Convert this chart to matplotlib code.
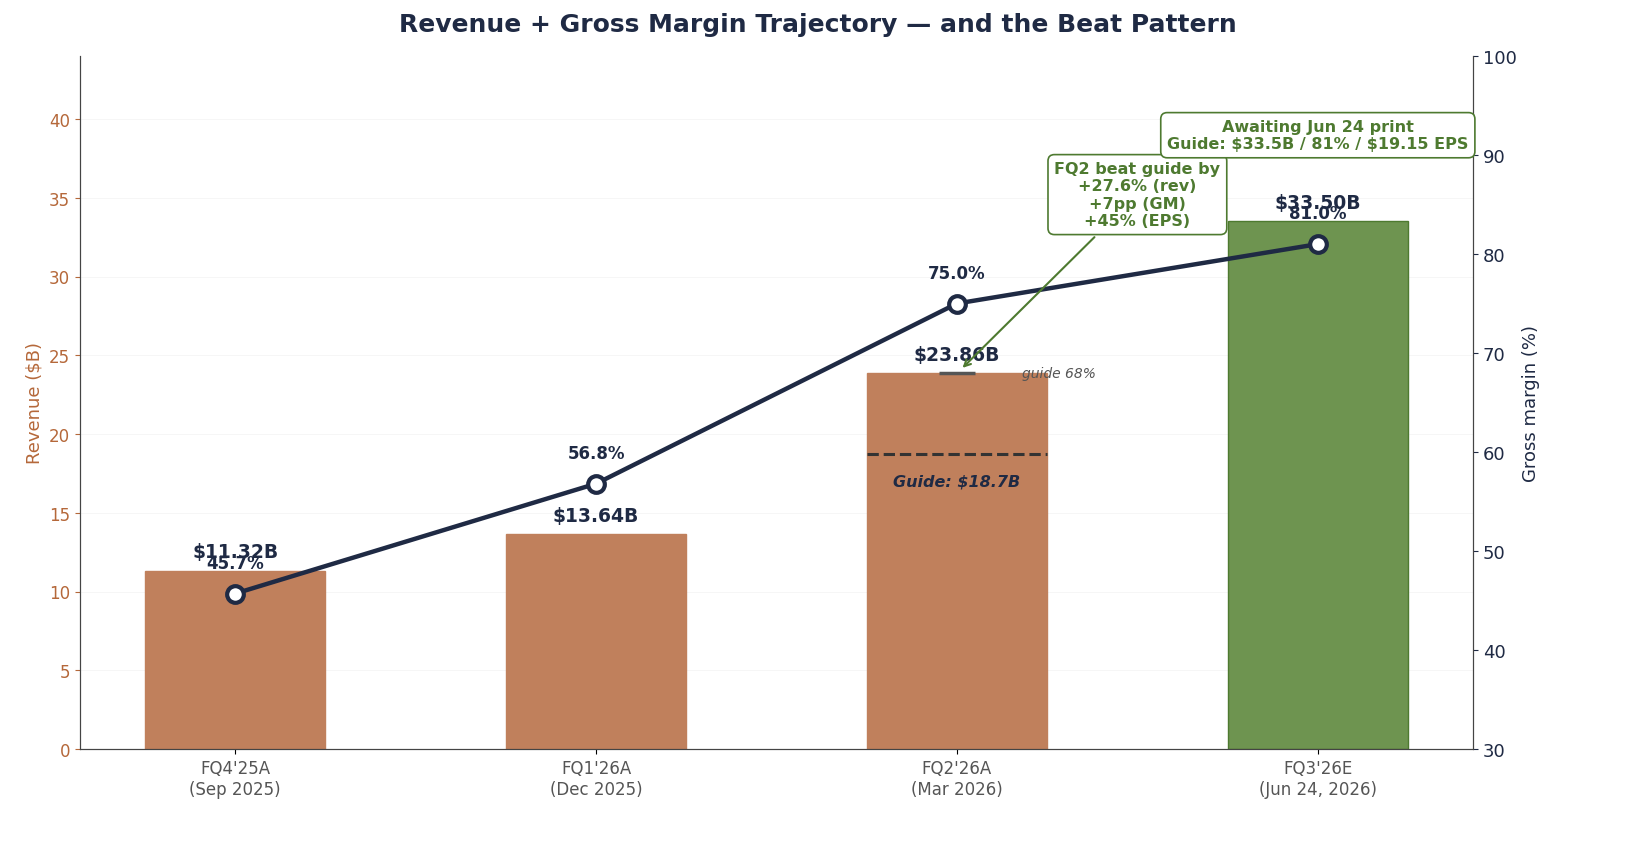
import matplotlib
matplotlib.use("Agg")
import matplotlib.pyplot as plt
plt.rcParams['text.parse_math'] = False

quarters = ["FQ4'25A\n(Sep 2025)", "FQ1'26A\n(Dec 2025)", "FQ2'26A\n(Mar 2026)", "FQ3'26E\n(Jun 24, 2026)"]
revenue = [11.32, 13.64, 23.86, 33.50]
gm = [45.7, 56.8, 75.0, 81.0]
rev_guide_fq2 = 18.7
gm_guide_fq2 = 68

navy = "#1F2A44"
copper = "#C0805C"
green = "#6E9450"
dgreen = "#4E7A30"

fig = plt.figure(figsize=(16.35, 8.54), dpi=100)
ax = fig.add_axes([80/1635, 1-750/854, (1473-80)/1635, (750-57)/854])
ax2 = ax.twinx()
x = list(range(len(quarters)))
colors = [copper, copper, copper, green]
edges = [copper, copper, copper, dgreen]
ax.bar(x, revenue, width=0.5, color=colors, edgecolor=edges, zorder=2)
ax.set_ylim(0, 44)
ax.set_xlim(-0.43, 3.43)
ax.set_yticks(range(0, 45, 5))
ax.grid(axis='y', color='#eeeeee', lw=0.6, alpha=0.6, zorder=0)
ax.set_xticks(x)
ax.set_xticklabels(quarters, fontsize=12, color='#555555')
ax.tick_params(axis='y', colors='#B5683A', labelsize=12)
ax.set_ylabel("Revenue ($B)", color='#B5683A', fontsize=13)
for s in ['top']:
    ax.spines[s].set_visible(False)
    ax2.spines[s].set_visible(False)
for a in (ax, ax2):
    a.spines['left'].set_color('#444444')
    a.spines['right'].set_color('#444444')
    a.spines['bottom'].set_color('#444444')

for i, r in enumerate(revenue):
    ax.text(i, r + 0.6, f"${r:.2f}B", ha='center', va='bottom', fontsize=13.5, fontweight='bold', color=navy)

ax.hlines(rev_guide_fq2, 2 - 0.25, 2 + 0.25, colors='#333333', linestyles='--', lw=2.2, zorder=3)
ax.text(2, rev_guide_fq2 - 1.2, f"Guide: ${rev_guide_fq2}B", ha='center', va='top', fontsize=11.5,
        fontweight='bold', style='italic', color=navy)

ax2.set_ylim(30, 100)
ax2.plot(x, gm, color=navy, lw=3.2, marker='o', ms=12, mfc='white', mec=navy, mew=3, zorder=5)
ax2.set_ylabel("Gross margin (%)", color=navy, fontsize=13)
ax2.tick_params(axis='y', colors=navy, labelsize=13)
for i, g in enumerate(gm):
    ax2.text(i, g + 2.2, f"{g:.1f}%", ha='center', va='bottom', fontsize=12, fontweight='bold', color=navy)

ax2.hlines(gm_guide_fq2, 2 - 0.05, 2 + 0.05, colors='#555555', lw=2.5, zorder=4)
ax2.text(2.18, gm_guide_fq2, "guide 68%", ha='left', va='center', fontsize=10, style='italic', color='#555555')

ax2.annotate("FQ2 beat guide by\n+27.6% (rev)\n+7pp (GM)\n+45% (EPS)", xy=(2.01, 68.3), xytext=(2.5, 86),
             ha='center', va='center', fontsize=11.5, fontweight='bold', color=dgreen,
             bbox=dict(boxstyle='round,pad=0.4', fc='white', ec=dgreen, lw=1.2),
             arrowprops=dict(arrowstyle='->', color=dgreen, lw=1.5), zorder=6)
ax2.text(3.0, 92, "Awaiting Jun 24 print\nGuide: $33.5B / 81% / $19.15 EPS", ha='center', va='center',
         fontsize=11.5, fontweight='bold', color=dgreen,
         bbox=dict(boxstyle='round,pad=0.4', fc='white', ec=dgreen, lw=1.2), zorder=6)

fig.suptitle("Revenue + Gross Margin Trajectory — and the Beat Pattern", y=0.985, fontsize=18,
             fontweight='bold', color=navy)
fig.savefig("out.png", dpi=100)
